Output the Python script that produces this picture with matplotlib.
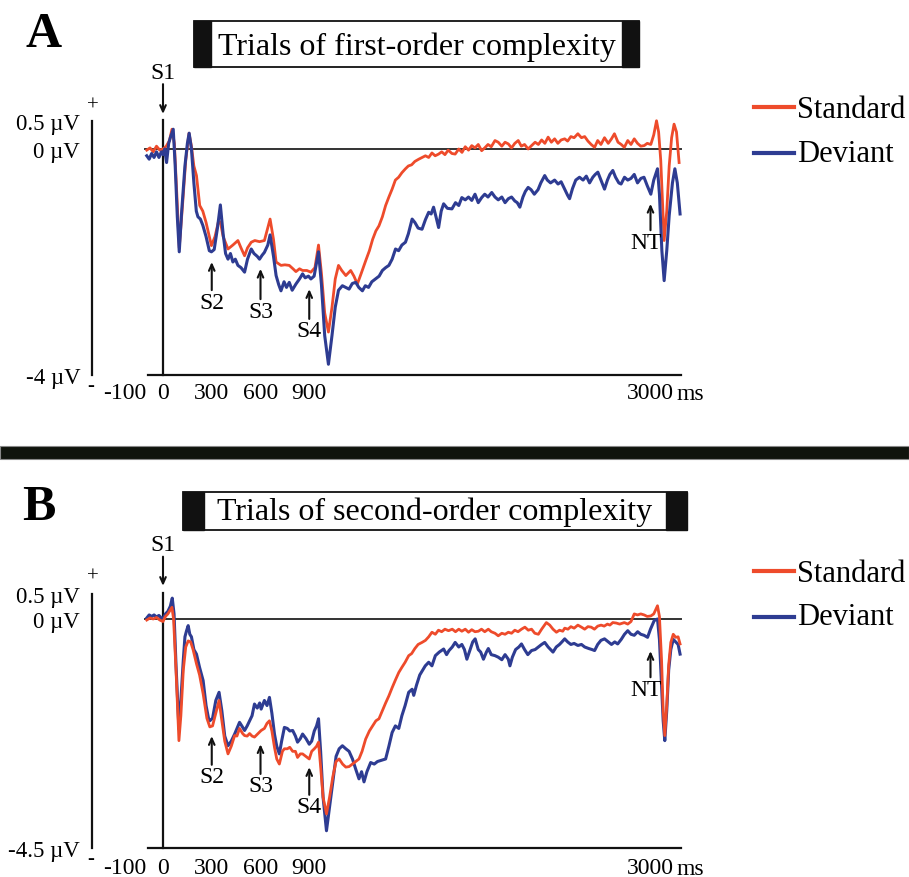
import matplotlib
matplotlib.use("Agg")
import matplotlib.pyplot as plt
from matplotlib.patches import Rectangle
import numpy as np

plt.rcParams['font.family'] = ['Liberation Serif', 'DejaVu Serif']

# ---------------- data (ms, µV) ----------------
a_std_t = [-100, -80, -60, -40, -20, 0, 20, 40, 55, 70, 85, 100, 120, 140, 160, 175, 190, 206, 226, 245, 265, 298,
           320, 340, 353, 370, 400, 430, 461, 480, 502, 520, 543, 565, 594, 624, 659, 680, 696, 726, 750, 777, 800,
           818, 840, 859, 885, 910, 935, 957, 975, 995, 1018, 1040, 1060, 1080, 1100, 1125, 1155, 1175, 1196, 1220,
           1247, 1270, 1290, 1310, 1329, 1350, 1370, 1390, 1410, 1430, 1450, 1470, 1492, 1510, 1530, 1550, 1574,
           1594, 1615, 1635, 1655, 1675, 1696, 1715, 1735, 1755, 1778, 1798, 1820, 1840, 1860, 1880, 1900, 1920,
           1940, 1961, 1980, 2000, 2020, 2043, 2063, 2085, 2105, 2125, 2145, 2165, 2186, 2205, 2225, 2247, 2268,
           2290, 2310, 2330, 2350, 2370, 2390, 2410, 2430, 2450, 2472, 2490, 2510, 2530, 2553, 2575, 2595, 2615,
           2635, 2656, 2675, 2695, 2717, 2740, 2760, 2778, 2800, 2820, 2839, 2860, 2880, 2900, 2920, 2940, 2961,
           2980, 3002, 3020, 3037, 3050, 3063, 3075, 3084, 3100, 3115, 3130, 3145, 3160, 3176]
a_std_v = [-0.02, 0.02, -0.05, 0.05, -0.02, 0.0, 0.05, 0.15, 0.35, 0.1, -0.8, -1.75, -1.0, -0.2, 0.28, 0.05, -0.3,
           -0.47, -1.0, -1.1, -1.3, -1.71, -1.55, -1.3, -1.29, -1.55, -1.77, -1.7, -1.62, -1.75, -1.89, -1.75, -1.65,
           -1.62, -1.64, -1.62, -1.24, -1.6, -2.0, -2.06, -2.05, -2.06, -2.12, -2.17, -2.12, -2.15, -2.15, -2.18,
           -2.1, -1.70, -2.2, -2.9, -3.24, -2.8, -2.3, -2.06, -2.15, -2.24, -2.15, -2.25, -2.39, -2.2, -1.98, -1.8,
           -1.6, -1.45, -1.36, -1.2, -1.0, -0.85, -0.71, -0.55, -0.5, -0.42, -0.35, -0.3, -0.28, -0.22, -0.18,
           -0.15, -0.12, -0.15, -0.07, -0.12, -0.09, -0.05, -0.1, -0.02, -0.08, -0.09, 0.0, -0.06, 0.04, -0.02,
           0.06, 0.02, 0.08, -0.03, 0.02, 0.08, 0.04, 0.15, 0.12, 0.05, 0.12, 0.09, 0.02, 0.1, 0.15, 0.05, 0.08,
           0.0, 0.06, 0.12, 0.08, 0.16, 0.1, 0.21, 0.12, 0.18, 0.1, 0.16, 0.18, 0.14, 0.22, 0.2, 0.27, 0.2, 0.22,
           0.14, 0.08, 0.03, 0.15, 0.08, 0.2, 0.1, 0.18, 0.27, 0.12, 0.08, 0.03, 0.15, 0.08, 0.18, 0.1, 0.05, 0.06,
           0.1, 0.08, 0.25, 0.5, 0.3, -0.2, -1.0, -1.62, -1.1, -0.3, 0.2, 0.44, 0.3, -0.24]

a_dev_t = [-100, -85, -70, -55, -40, -25, -10, 0, 10, 22, 35, 45, 63, 75, 88, 100, 115, 135, 150, 161, 175, 190, 205,
           215, 230, 245, 265, 285, 298, 315, 335, 353, 370, 385, 400, 415, 430, 445, 461, 480, 502, 520, 543, 560,
           580, 594, 610, 624, 645, 659, 680, 696, 712, 726, 745, 760, 777, 795, 818, 840, 859, 875, 895, 910, 930,
           957, 975, 995, 1018, 1040, 1060, 1080, 1104, 1125, 1145, 1165, 1186, 1205, 1227, 1245, 1265, 1285, 1308,
           1330, 1350, 1370, 1390, 1410, 1431, 1450, 1470, 1492, 1510, 1533, 1550, 1570, 1594, 1615, 1635, 1650,
           1665, 1680, 1696, 1712, 1727, 1750, 1778, 1800, 1820, 1839, 1860, 1880, 1900, 1920, 1940, 1961, 1980,
           2000, 2023, 2043, 2063, 2085, 2105, 2125, 2145, 2165, 2180, 2196, 2215, 2230, 2247, 2265, 2285, 2308,
           2325, 2349, 2365, 2385, 2410, 2431, 2450, 2470, 2490, 2502, 2520, 2540, 2563, 2585, 2605, 2625, 2645,
           2660, 2676, 2695, 2717, 2735, 2750, 2768, 2785, 2805, 2819, 2840, 2860, 2880, 2900, 2920, 2941, 2960,
           2980, 3002, 3020, 3043, 3055, 3070, 3084, 3100, 3115, 3135, 3150, 3165, 3182]
a_dev_v = [-0.12, -0.18, -0.08, -0.15, -0.05, -0.15, -0.05, -0.1, 0.0, -0.24, 0.1, 0.2, 0.35, -0.3, -1.2, -1.82,
           -1.1, -0.3, 0.1, 0.28, 0.0, -0.6, -1.1, -1.2, -1.24, -1.35, -1.55, -1.8, -1.82, -1.78, -1.4, -0.99, -1.5,
           -1.85, -1.95, -1.85, -2.0, -1.95, -2.06, -2.1, -2.18, -1.95, -1.77, -1.85, -1.9, -1.95, -1.88, -1.83,
           -1.7, -1.52, -1.9, -2.24, -2.4, -2.51, -2.35, -2.45, -2.36, -2.5, -2.39, -2.3, -2.21, -2.28, -2.25,
           -2.30, -2.25, -1.82, -2.4, -3.3, -3.81, -3.3, -2.8, -2.5, -2.42, -2.45, -2.48, -2.38, -2.36, -2.45,
           -2.51, -2.42, -2.45, -2.35, -2.30, -2.25, -2.15, -2.1, -2.06, -1.95, -1.77, -1.8, -1.7, -1.65, -1.5,
           -1.24, -1.3, -1.4, -1.42, -1.25, -1.12, -1.15, -1.03, -1.2, -1.39, -1.1, -0.97, -1.05, -1.06, -0.95,
           -1.0, -0.86, -0.9, -0.85, -0.91, -0.8, -0.95, -0.86, -0.8, -0.85, -0.77, -0.85, -0.9, -0.85, -0.95,
           -0.88, -0.85, -0.92, -0.95, -1.03, -0.85, -0.75, -0.68, -0.72, -0.8, -0.72, -0.6, -0.47, -0.55, -0.6,
           -0.55, -0.62, -0.58, -0.7, -0.82, -0.88, -0.7, -0.55, -0.5, -0.55, -0.48, -0.6, -0.5, -0.45, -0.41,
           -0.55, -0.71, -0.55, -0.45, -0.38, -0.5, -0.6, -0.62, -0.5, -0.55, -0.52, -0.45, -0.6, -0.52, -0.5,
           -0.65, -0.8, -0.55, -0.35, -0.8, -1.8, -2.33, -1.8, -1.18, -0.6, -0.35, -0.6, -1.15]

b_std_t = [-100, -80, -60, -40, -20, 0, 15, 30, 45, 55, 65, 80, 90, 98, 110, 125, 140, 155, 170, 185, 206, 225, 247,
           270, 288, 305, 325, 345, 360, 380, 400, 420, 441, 455, 471, 490, 502, 518, 533, 548, 563, 585, 604, 624,
           640, 655, 670, 686, 700, 716, 735, 747, 765, 780, 798, 815, 828, 845, 859, 880, 900, 915, 931, 945, 957,
           970, 985, 1006, 1025, 1045, 1065, 1084, 1105, 1125, 1145, 1166, 1186, 1206, 1225, 1247, 1270, 1290, 1310,
           1329, 1350, 1370, 1390, 1410, 1430, 1451, 1470, 1490, 1512, 1530, 1550, 1570, 1594, 1615, 1635, 1655,
           1676, 1695, 1715, 1735, 1757, 1780, 1800, 1820, 1839, 1860, 1880, 1900, 1920, 1941, 1960, 1980, 2002,
           2020, 2043, 2063, 2085, 2105, 2125, 2145, 2165, 2185, 2206, 2227, 2248, 2268, 2288, 2310, 2330, 2359,
           2380, 2400, 2421, 2440, 2460, 2472, 2492, 2510, 2530, 2553, 2575, 2595, 2615, 2635, 2655, 2675, 2696,
           2715, 2735, 2750, 2768, 2790, 2810, 2839, 2860, 2880, 2900, 2920, 2940, 2961, 2980, 3002, 3020, 3043,
           3055, 3068, 3078, 3088, 3100, 3112, 3125, 3140, 3155, 3170, 3182]
b_std_v = [-0.02, 0.02, 0.0, 0.03, -0.02, -0.05, 0.05, 0.1, 0.18, 0.23, 0.0, -1.0, -1.8, -2.39, -1.9, -1.0, -0.55,
           -0.43, -0.45, -0.6, -0.88, -1.1, -1.47, -1.95, -2.12, -2.1, -1.85, -1.6, -1.95, -2.4, -2.65, -2.5, -2.29,
           -2.3, -2.15, -2.25, -2.29, -2.3, -2.25, -2.3, -2.32, -2.25, -2.19, -2.15, -2.05, -2.0, -2.2, -2.52,
           -2.75, -2.85, -2.6, -2.55, -2.55, -2.52, -2.6, -2.6, -2.72, -2.65, -2.65, -2.7, -2.75, -2.6, -2.55,
           -2.5, -2.42, -2.9, -3.5, -3.83, -3.5, -3.1, -2.8, -2.75, -2.85, -2.91, -2.9, -2.85, -2.8, -2.75, -2.6,
           -2.36, -2.2, -2.1, -2.0, -1.96, -1.8, -1.65, -1.51, -1.35, -1.2, -1.05, -0.95, -0.85, -0.72, -0.68,
           -0.58, -0.5, -0.46, -0.42, -0.35, -0.26, -0.3, -0.22, -0.25, -0.2, -0.23, -0.2, -0.25, -0.2, -0.24,
           -0.2, -0.26, -0.21, -0.25, -0.24, -0.2, -0.25, -0.2, -0.25, -0.28, -0.33, -0.28, -0.3, -0.26, -0.28,
           -0.22, -0.25, -0.2, -0.16, -0.22, -0.2, -0.28, -0.3, -0.2, -0.07, -0.12, -0.2, -0.26, -0.22, -0.24,
           -0.18, -0.2, -0.15, -0.18, -0.12, -0.16, -0.2, -0.15, -0.16, -0.2, -0.14, -0.12, -0.14, -0.1, -0.12,
           -0.07, -0.08, -0.1, -0.07, -0.1, -0.05, 0.1, 0.08, 0.1, 0.08, 0.05, 0.06, 0.1, 0.26, 0.05, -0.8, -1.8,
           -2.29, -1.7, -0.9, -0.46, -0.3, -0.36, -0.35, -0.49]

b_dev_t = [-100, -85, -70, -55, -40, -25, -10, 0, 15, 30, 45, 57, 68, 80, 90, 98, 110, 125, 135, 145, 155, 165, 175,
           190, 206, 225, 247, 265, 280, 288, 305, 325, 345, 362, 380, 400, 420, 441, 455, 471, 485, 502, 518, 533,
           548, 563, 580, 595, 604, 624, 640, 655, 670, 686, 700, 716, 730, 747, 765, 780, 798, 815, 828, 845, 859,
           880, 900, 915, 931, 945, 957, 970, 985, 1006, 1025, 1045, 1065, 1084, 1104, 1125, 1145, 1166, 1186, 1206,
           1222, 1237, 1255, 1278, 1300, 1320, 1340, 1370, 1390, 1410, 1430, 1451, 1470, 1490, 1512, 1533, 1543,
           1560, 1580, 1614, 1635, 1655, 1676, 1700, 1727, 1745, 1760, 1780, 1798, 1820, 1839, 1855, 1870, 1890,
           1906, 1921, 1940, 1955, 1972, 1990, 2002, 2020, 2043, 2063, 2085, 2105, 2125, 2135, 2150, 2170, 2190,
           2206, 2225, 2245, 2268, 2290, 2310, 2330, 2349, 2370, 2385, 2400, 2420, 2440, 2455, 2472, 2490, 2510,
           2530, 2553, 2575, 2595, 2620, 2640, 2656, 2675, 2695, 2717, 2740, 2760, 2780, 2798, 2820, 2840, 2860,
           2880, 2900, 2921, 2940, 2960, 2982, 3000, 3023, 3043, 3055, 3068, 3078, 3088, 3100, 3112, 3125, 3140,
           3155, 3170, 3182]
b_dev_v = [0.02, 0.08, 0.05, 0.08, 0.04, 0.07, 0.02, 0.0, 0.1, 0.15, 0.25, 0.41, 0.1, -0.9, -1.6, -2.16, -1.6, -0.8,
           -0.35, -0.23, -0.13, -0.3, -0.35, -0.6, -0.69, -0.95, -1.21, -1.7, -1.95, -2.0, -1.95, -1.6, -1.44, -1.8,
           -2.3, -2.49, -2.4, -2.26, -2.15, -2.03, -2.1, -2.19, -2.1, -2.0, -1.9, -1.67, -1.75, -1.65, -1.77, -1.6,
           -1.7, -1.54, -1.85, -2.26, -2.5, -2.65, -2.4, -2.13, -2.15, -2.2, -2.19, -2.3, -2.42, -2.35, -2.26,
           -2.35, -2.46, -2.4, -2.2, -2.1, -1.96, -2.6, -3.5, -4.16, -3.7, -3.2, -2.7, -2.55, -2.49, -2.55, -2.6,
           -2.75, -2.95, -3.14, -3.0, -3.2, -3.0, -2.82, -2.85, -2.8, -2.78, -2.75, -2.5, -2.23, -2.1, -2.15, -1.9,
           -1.7, -1.44, -1.38, -1.5, -1.3, -1.1, -0.92, -0.85, -0.92, -0.72, -0.65, -0.59, -0.7, -0.62, -0.55,
           -0.46, -0.55, -0.5, -0.6, -0.79, -0.6, -0.45, -0.39, -0.6, -0.65, -0.79, -0.65, -0.58, -0.7, -0.72,
           -0.75, -0.8, -0.7, -0.79, -0.92, -0.75, -0.6, -0.55, -0.49, -0.6, -0.7, -0.62, -0.6, -0.55, -0.5, -0.46,
           -0.55, -0.6, -0.65, -0.55, -0.5, -0.45, -0.39, -0.45, -0.5, -0.48, -0.52, -0.5, -0.55, -0.58, -0.6,
           -0.62, -0.5, -0.42, -0.39, -0.45, -0.5, -0.45, -0.49, -0.4, -0.3, -0.23, -0.3, -0.32, -0.25, -0.3,
           -0.32, -0.36, -0.2, -0.03, 0.0, -0.4, -1.3, -2.0, -2.39, -1.8, -1.0, -0.6, -0.4, -0.45, -0.5, -0.69]

series_names = ['Standard', 'Deviant']
titles = ['Trials of first-order complexity', 'Trials of second-order complexity']
panel_letters = ['A', 'B']
time_ticks = [-100, 0, 300, 600, 900, 3000]
time_tick_labels = ['-100', '0', '300', '600', '900', '3000']
event_names = ['S1', 'S2', 'S3', 'S4', 'NT']
event_times = [0, 300, 600, 900, 3000]
y_ticks_a = [0.5, 0, -4]
y_ticks_b = [0.5, 0, -4.5]
y_labels_a = ['0.5 µV', '0 µV', '-4 µV']
y_labels_b = ['0.5 µV', '0 µV', '-4.5 µV']

RED = '#EE4B2B'
BLUE = '#2E3C92'
DARK = '#111111'
FS = 17

W, H = 909, 878
fig = plt.figure(figsize=(W / 100, H / 100), dpi=100)

# overlay axes in pixel coordinates
ov = fig.add_axes([0, 0, 1, 1])
ov.set_xlim(0, W)
ov.set_ylim(H, 0)
ov.axis('off')


def make_axes(px_left, px_right, px_top, px_bottom):
    return fig.add_axes([px_left / W, 1 - px_bottom / H, (px_right - px_left) / W, (px_bottom - px_top) / H])


XLIM = (-120, 3200)
X0PX, XSC = 163.0, 0.1625  # px at 0 ms, px per ms

def xpx(t):
    return X0PX + t * XSC

panels = [
    dict(ax_top_v=0.75, ax_bot_v=-4.2, zero_y=150.0, scale=56.5, ymin=-4.0, yticks=y_ticks_a, ylabels=y_labels_a,
         std=(a_std_t, a_std_v), dev=(a_dev_t, a_dev_v),
         arrows=[(1.36, 0.62), (-2.71, -2.0), (-2.87, -2.12), (-3.22, -2.48), (-1.65, -0.97)],
         title_box=(194, 639, 22, 68, 17), title_base=55, letter=(25, 47),
         leg=(108, 154, 118, 162), plus=106, minus=387, tickpad=5.0),
    dict(ax_top_v=0.75, ax_bot_v=-4.7, zero_y=620.0, scale=50.9, ymin=-4.5, yticks=y_ticks_b, ylabels=y_labels_b,
         std=(b_std_t, b_std_v), dev=(b_dev_t, b_dev_v),
         arrows=[(1.46, 0.65), (-3.10, -2.30), (-3.28, -2.46), (-3.69, -2.91), (-1.38, -0.63)],
         title_box=(183, 687, 493, 531, 21), title_base=520, letter=(22, 520),
         leg=(572, 618, 582, 625), plus=577, minus=860, tickpad=6.5),
]

for i, p in enumerate(panels):
    top_px = p['zero_y'] - p['ax_top_v'] * p['scale']
    bot_px = p['zero_y'] - p['ax_bot_v'] * p['scale']
    ax = make_axes(xpx(XLIM[0]), xpx(XLIM[1]), top_px, bot_px)
    ax.set_xlim(*XLIM)
    ax.set_ylim(p['ax_bot_v'], p['ax_top_v'])
    ax.patch.set_alpha(0)
    for s in ['top', 'right']:
        ax.spines[s].set_visible(False)
    # left (voltage) axis
    out_pts = (xpx(XLIM[0]) - 92) * 0.72
    ax.spines['left'].set_position(('outward', out_pts))
    ax.spines['left'].set_bounds(p['ymin'], 0.5)
    ax.spines['left'].set_linewidth(1.6)
    ax.spines['left'].set_color(DARK)
    ax.set_yticks(p['yticks'])
    ax.set_yticklabels(p['ylabels'])
    ax.tick_params(axis='y', length=0, pad=8.5, labelsize=FS - 0.5)
    # bottom (time) axis
    ax.spines['bottom'].set_position(('data', p['ymin']))
    ax.spines['bottom'].set_bounds(-90, 3190)
    ax.spines['bottom'].set_linewidth(1.6)
    ax.spines['bottom'].set_color(DARK)
    ax.set_xticks(time_ticks)
    ax.set_xticklabels(time_tick_labels)
    ax.set_xticks([300, 600, 900, 3000], minor=True)
    ax.tick_params(axis='x', which='major', length=0, pad=p['tickpad'], labelsize=FS)
    ax.tick_params(axis='x', which='minor', direction='in', length=4, width=3, color=DARK)
    ax.get_xticklabels()[0].set_horizontalalignment('right')
    ax.annotate('ms', xy=(3000, p['ymin']), xytext=(19, -p['tickpad'] - 0.5), textcoords='offset points',
                ha='left', va='top', fontsize=FS, annotation_clip=False)
    # zero line and onset line
    ax.plot([-110, 3190], [0, 0], color='#333333', lw=1.4, zorder=1)
    ax.plot([0, 0], [p['ymin'], 0.52], color=DARK, lw=1.6, zorder=1, clip_on=False)
    # waveforms
    if i == 0:
        ax.plot(*p['std'], color=RED, lw=2.0, zorder=3)
        ax.plot(*p['dev'], color=BLUE, lw=2.2, zorder=4)
    else:
        ax.plot(*p['std'], color=RED, lw=2.0, zorder=4)
        ax.plot(*p['dev'], color=BLUE, lw=2.2, zorder=3)
    # event arrows
    gap = 12.0 / p['scale']
    for name, t, (v_txt, v_head) in zip(event_names, event_times, p['arrows']):
        tail = v_txt - gap if name == 'S1' else v_txt + gap
        ax.annotate('', xy=(t, v_head), xytext=(t, tail),
                    annotation_clip=False,
                    arrowprops=dict(arrowstyle='->,head_length=0.45,head_width=0.2', lw=1.5, color=DARK,
                                    shrinkA=0, shrinkB=0))
        t_txt = t - 25 if name == 'NT' else t
        ax.text(t_txt, v_txt, name, ha='center', va='center', fontsize=FS, clip_on=False, zorder=6)
    # + / - signs
    ov.text(93, p['plus'], '+', ha='center', va='center', fontsize=15)
    ov.text(91, p['minus'], '-', ha='center', va='center', fontsize=15)
    # title box
    x0, x1, y0, y1, bw = p['title_box']
    ov.add_patch(Rectangle((x0, y0), x1 - x0, y1 - y0, facecolor='white', edgecolor=DARK, lw=1.3))
    ov.add_patch(Rectangle((x0, y0), bw, y1 - y0, facecolor=DARK, edgecolor=DARK, lw=1))
    ov.add_patch(Rectangle((x1 - bw, y0), bw, y1 - y0, facecolor=DARK, edgecolor=DARK, lw=1))
    ov.text((x0 + x1) / 2, p['title_base'], titles[i], ha='center', va='baseline', fontsize=23)
    # panel letter
    ov.text(p['letter'][0], p['letter'][1], panel_letters[i], ha='left', va='baseline', fontsize=36,
            fontweight='bold')
    # legend
    ly_s, ly_d, tb_s, tb_d = p['leg']
    ov.plot([754, 794], [ly_s, ly_s], color=RED, lw=3)
    ov.plot([754, 794], [ly_d, ly_d], color=BLUE, lw=3)
    ov.text(797, tb_s, series_names[0], ha='left', va='baseline', fontsize=22)
    ov.text(797, tb_d, series_names[1], ha='left', va='baseline', fontsize=22)

# separator bar
ov.add_patch(Rectangle((0, 447), W, 13, facecolor='#10140D', edgecolor='#888888', lw=0.8))

fig.savefig('out.png', dpi=100)
